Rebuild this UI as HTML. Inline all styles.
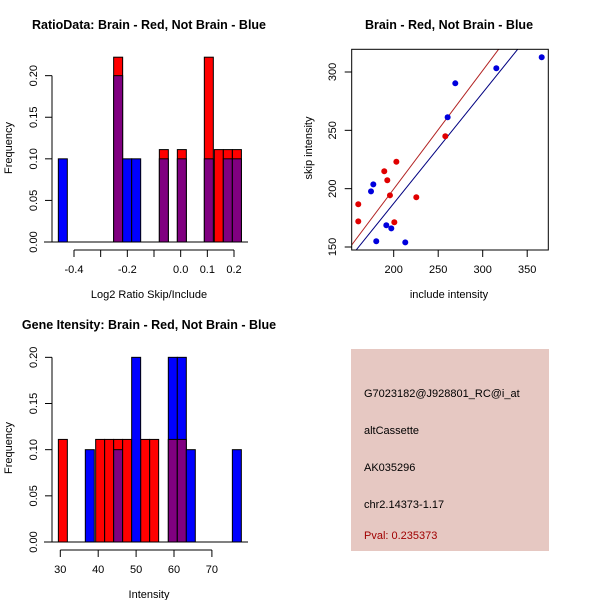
<!DOCTYPE html>
<html><head><meta charset="utf-8"><style>
body{margin:0;background:#fff}
svg{display:block;font-family:"Liberation Sans",Arial,sans-serif}
.t{font-weight:bold;font-size:12.5px}
.l{font-size:11px}
</style></head><body>
<svg id="s" width="600" height="600" viewBox="0 0 600 600">
<rect width="600" height="600" fill="#fff"/>
<text class="t" x="149" y="29" text-anchor="middle">RatioData: Brain - Red, Not Brain - Blue</text>
<text class="t" x="449" y="29" text-anchor="middle">Brain - Red, Not Brain - Blue</text>
<text class="t" x="149" y="329" text-anchor="middle">Gene Itensity: Brain - Red, Not Brain - Blue</text>
<text class="l" x="149" y="298" text-anchor="middle">Log2 Ratio Skip/Include</text>
<text class="l" x="449" y="298" text-anchor="middle">include intensity</text>
<text class="l" x="149" y="598" text-anchor="middle">Intensity</text>
<text class="l" transform="translate(12,148) rotate(-90)" text-anchor="middle">Frequency</text>
<text class="l" transform="translate(312,148) rotate(-90)" text-anchor="middle">skip intensity</text>
<text class="l" transform="translate(12,448) rotate(-90)" text-anchor="middle">Frequency</text>
<g>
<rect x="351" y="349" width="198" height="202" fill="#e6c8c2"/>
<text class="l" x="364" y="397">G7023182@J928801_RC@i_at</text>
<text class="l" x="364" y="434">altCassette</text>
<text class="l" x="364" y="471">AK035296</text>
<text class="l" x="364" y="508">chr2.14373-1.17</text>
<text class="l" x="364" y="539" fill="#a00000">Pval: 0.235373</text>
</g>
<g id="g1"></g><g id="g2"></g><g id="g3"></g>
</svg>
<script>
// Ratio histogram data
const ratioRedEdges=[-0.2513,-0.080,-0.0125,0.0887,0.126,0.160,0.194];
const ratioRedFreq=[0.2222,0.1111,0.1111,0.2222,0.1111,0.1111,0.1111];
const ratioBlueEdges=[-0.4587,-0.2513,-0.2175,-0.1837,-0.080,-0.0125,0.0887,0.160,0.194];
const ratioBlueFreq=[0.1,0.2,0.1,0.1,0.1,0.1,0.1,0.1,0.1];
const ratioXTicks=[-0.4,-0.3,-0.2,-0.1,0.0,0.1,0.2];
const ratioXLabels=["-0.4","","-0.2","","0.0","0.1","0.2"];
const ratioYTicks=[0,0.05,0.1,0.15,0.2];
const ratioYLabels=["0.00","0.05","0.10","0.15","0.20"];
// Scatter data
const redInclude=[160.2,160.2,203,189.4,192.8,195.8,225.4,200.7,258];
const redSkip=[186.6,172,223.1,214.9,207.2,194.3,192.6,171.2,244.9];
const blueInclude=[366.3,315.3,269.2,260.6,177.1,174.5,191.7,197.3,180.4,213];
const blueSkip=[312.6,303.2,290.3,261.2,203.7,197.7,168.6,166,154.9,154];
const redFit=[-3.5,1.016];
const blueFit=[-2.2,0.948];
const scatXTicks=[200,250,300,350];
const scatYTicks=[150,200,250,300];
// Intensity histogram data
const intRedEdges=[29.49,39.33,41.7,44.08,46.45,51.2,53.58,58.5,60.88];
const intRedFreq=[0.1111,0.1111,0.1111,0.1111,0.1111,0.1111,0.1111,0.1111,0.1111];
const intBlueEdges=[36.6,44.08,48.83,58.5,60.88,63.25,75.4];
const intBlueFreq=[0.1,0.1,0.2,0.2,0.2,0.1,0.1];
const intXTicks=[30,40,50,60,70];
const intYTicks=[0,0.05,0.1,0.15,0.2];
const intYLabels=["0.00","0.05","0.10","0.15","0.20"];

const NS="http://www.w3.org/2000/svg";
function mk(p,tag,at){const e=document.createElementNS(NS,tag);for(const k in at)e.setAttribute(k,at[k]);p.appendChild(e);return e;}

function hist(g,prefix,rE,rF,bE,bF,bw,sx,sy,base){
  const keys={};
  rE.forEach((e,i)=>{keys[e.toFixed(4)]={x:e,r:rF[i],b:0};});
  bE.forEach((e,i)=>{const k=e.toFixed(4);if(keys[k])keys[k].b=bF[i];else keys[k]={x:e,r:0,b:bF[i]};});
  Object.values(keys).forEach(o=>{
    const x0=sx(o.x),x1=sx(o.x+bw),w=x1-x0;
    const hi=Math.max(o.r,o.b),lo=Math.min(o.r,o.b);
    const top=o.r>=o.b?"#ff0000":"#0000ff";
    let r=mk(g,'rect',{x:x0,y:sy(hi),width:w,height:base-sy(hi),fill:top,stroke:'#000','stroke-width':1});
    
    
    if(lo>0){
      let p=mk(g,'rect',{x:x0,y:sy(lo),width:w,height:base-sy(lo),fill:'#800080',stroke:'#000','stroke-width':1});
      
      
    }
  });
}
function yaxis(g,x,ticks,labels,sy){
  mk(g,'line',{x1:x,x2:x,y1:sy(ticks[0]),y2:sy(ticks[ticks.length-1]),stroke:'#000'});
  ticks.forEach((t,i)=>{
    mk(g,'line',{x1:x-7,x2:x,y1:sy(t),y2:sy(t),stroke:'#000'});
    const tx=mk(g,'text',{transform:`translate(${x-15},${sy(t)}) rotate(-90)`,'text-anchor':'middle','font-size':'11px'});
    tx.textContent=labels[i];
    
    
  });
}
function xaxis(g,y,ticks,labels,sx){
  mk(g,'line',{x1:sx(ticks[0]),x2:sx(ticks[ticks.length-1]),y1:y,y2:y,stroke:'#000'});
  ticks.forEach((t,i)=>{
    mk(g,'line',{x1:sx(t),x2:sx(t),y1:y,y2:y+7,stroke:'#000'});
    const tx=mk(g,'text',{x:sx(t),y:y+23,'text-anchor':'middle','font-size':'11px'});
    tx.textContent=labels[i];
    
    
  });
}
// Plot 1
{const g=document.getElementById('g1');

const sx=v=>180.67+v*266.7, sy=v=>242-v*831.7;
hist(g,'ratio',ratioRedEdges,ratioRedFreq,ratioBlueEdges,ratioBlueFreq,0.03375,sx,sy,242);
mk(g,'line',{x1:44,x2:248,y1:242,y2:242,stroke:'#000'});
yaxis(g,52,ratioYTicks,ratioYLabels,sy);
xaxis(g,250,ratioXTicks,ratioXLabels,sx);}
// Plot 2
{const g=document.getElementById('g2');

const sx=v=>393.7+(v-200)*0.89, sy=v=>247-(v-150)*1.1667;
const cp=mk(g,'clipPath',{id:'cp'});mk(cp,'rect',{x:352,y:49,width:196,height:201});
[[redFit,'#b22222','red-fit-line'],[blueFit,'#000080','blue-fit-line']].forEach(([f,c,n])=>{
  const l=mk(g,'line',{x1:sx(100),y1:sy(f[0]+f[1]*100),x2:sx(450),y2:sy(f[0]+f[1]*450),stroke:c,'clip-path':'url(#cp)'});
  });
redInclude.forEach((v,i)=>{const c=mk(g,'circle',{cx:sx(v),cy:sy(redSkip[i]),r:3,fill:'#e00000'});
  });
blueInclude.forEach((v,i)=>{const c=mk(g,'circle',{cx:sx(v),cy:sy(blueSkip[i]),r:3,fill:'#0000dd'});
  });
mk(g,'rect',{x:351.7,y:49.3,width:196.6,height:200.7,fill:'none',stroke:'#000'});
scatYTicks.forEach(t=>{mk(g,'line',{x1:344.7,x2:351.7,y1:sy(t),y2:sy(t),stroke:'#000'});
  const tx=mk(g,'text',{transform:`translate(336,${sy(t)}) rotate(-90)`,'text-anchor':'middle','font-size':'11px'});tx.textContent=t;
  });
scatXTicks.forEach(t=>{mk(g,'line',{x1:sx(t),x2:sx(t),y1:250,y2:257,stroke:'#000'});
  const tx=mk(g,'text',{x:sx(t),y:273,'text-anchor':'middle','font-size':'11px'});tx.textContent=t;
  });}
// Plot 3
{const g=document.getElementById('g3');

const sx=v=>60.3+(v-30)*3.79, sy=v=>542-v*923.3;
hist(g,'intensity',intRedEdges,intRedFreq,intBlueEdges,intBlueFreq,2.37,sx,sy,542);
mk(g,'line',{x1:44,x2:248,y1:542,y2:542,stroke:'#000'});
yaxis(g,52,intYTicks,intYLabels,sy);
xaxis(g,550,intXTicks,intXTicks.map(String),sx);}
</script>
</body></html>
